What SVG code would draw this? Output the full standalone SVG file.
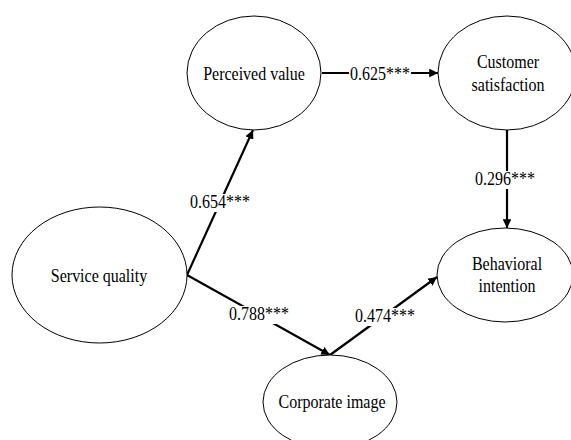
<svg xmlns="http://www.w3.org/2000/svg" width="571" height="440" viewBox="0 0 571 440">
<defs>
<marker id="ah" viewBox="0 0 10 10" refX="10" refY="5" markerWidth="4" markerHeight="4" orient="auto" markerUnits="strokeWidth">
<path d="M0,0 L10,5 L0,10 z" fill="#000"/>
</marker>
</defs>
<style>
.node ellipse{fill:#fff;stroke:#000;stroke-width:1}
.t{fill:#000;text-anchor:middle;font-size:18px}
.edge line{stroke:#000;stroke-width:2.2;marker-end:url(#ah)}
.lbl rect{fill:#fff}
</style>
<rect width="571" height="440" fill="#fff"/>
<g id="connectors" class="edge">
<line x1="187" y1="275" x2="253" y2="130"/>
<line x1="187" y1="275" x2="330" y2="355"/>
<line x1="330" y1="355" x2="437" y2="277"/>
<line x1="322" y1="73" x2="438" y2="73"/>
<line x1="507" y1="130" x2="507" y2="228"/>
</g>
<g id="labels" class="lbl">
<rect x="189" y="194" width="62" height="18"/><text class="t" font-family="Liberation Serif" transform="translate(220,208) scale(0.89,1)">0.654***</text>
<rect x="229" y="306" width="60" height="18"/><text class="t" font-family="Liberation Serif" transform="translate(259,320) scale(0.89,1)">0.788***</text>
<rect x="354" y="308" width="62" height="18"/><text class="t" font-family="Liberation Serif" transform="translate(385,322) scale(0.89,1)">0.474***</text>
<rect x="349" y="66" width="62" height="18"/><text class="t" font-family="Liberation Serif" transform="translate(380,80) scale(0.89,1)">0.625***</text>
<rect x="474" y="171" width="63" height="18"/><text class="t" font-family="Liberation Serif" transform="translate(505,185) scale(0.89,1)">0.296***</text>
</g>
<g id="pv" class="node"><ellipse cx="254" cy="73" rx="67" ry="57"/><text class="t" font-family="Liberation Serif" transform="translate(254,80) scale(0.89,1)">Perceived value</text></g>
<g id="cs" class="node"><ellipse cx="507" cy="73" rx="69" ry="57"/><text class="t" font-family="Liberation Serif" transform="translate(508,68) scale(0.89,1)">Customer</text><text class="t" font-family="Liberation Serif" transform="translate(508,91) scale(0.89,1)">satisfaction</text></g>
<g id="sq" class="node"><ellipse cx="99.5" cy="275" rx="87.5" ry="68"/><text class="t" font-family="Liberation Serif" transform="translate(99,282) scale(0.89,1)">Service quality</text></g>
<g id="bi" class="node"><ellipse cx="505" cy="275" rx="68" ry="47"/><text class="t" font-family="Liberation Serif" transform="translate(507,270) scale(0.89,1)">Behavioral</text><text class="t" font-family="Liberation Serif" transform="translate(507,292) scale(0.89,1)">intention</text></g>
<g id="ci" class="node"><ellipse cx="330" cy="402" rx="67" ry="47"/><text class="t" font-family="Liberation Serif" transform="translate(332,408) scale(0.89,1)">Corporate image</text></g>
</svg>
